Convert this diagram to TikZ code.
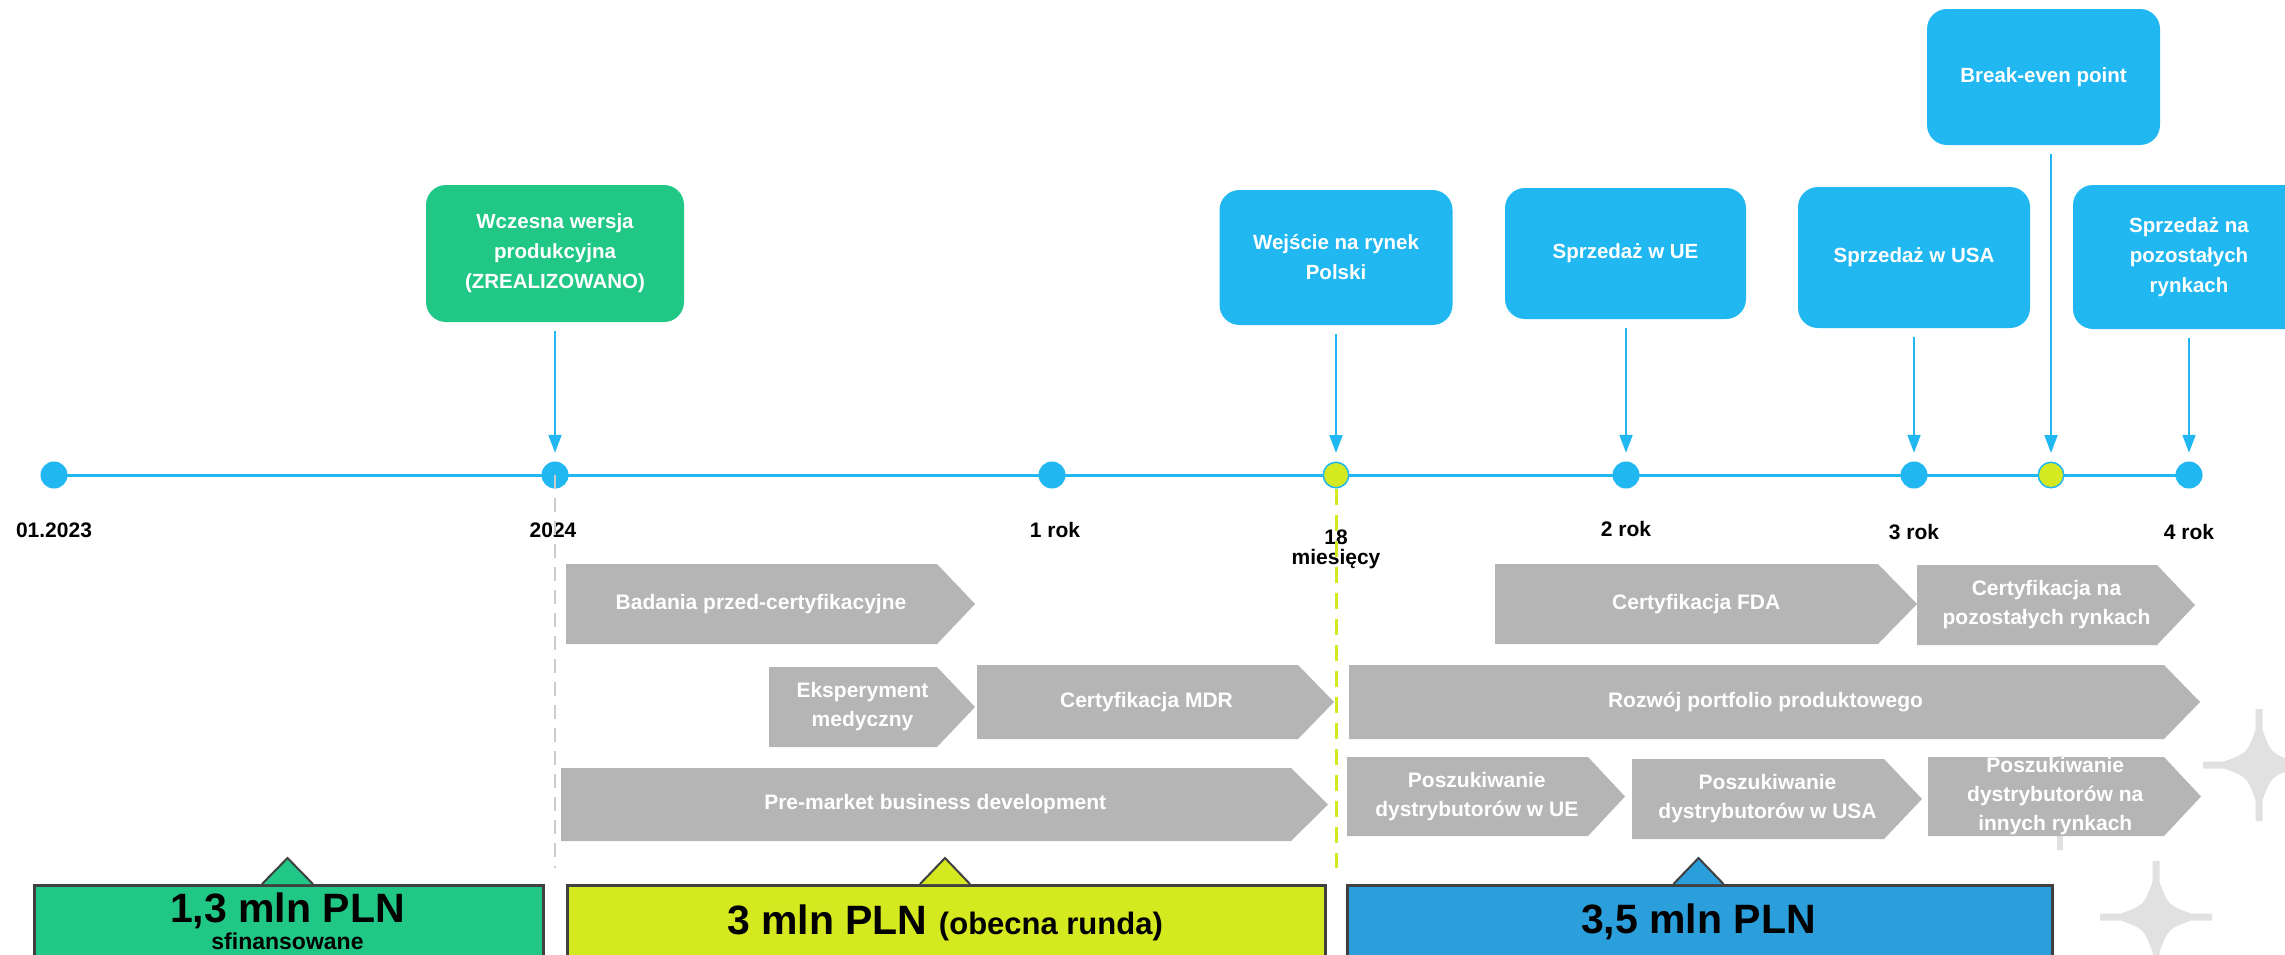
\documentclass[tikz,border=0pt]{standalone}
\usepackage{fontspec}
\setmainfont{Liberation Sans}
\usetikzlibrary{arrows.meta}
\definecolor{tlblue}{HTML}{21B8F2}
\definecolor{mgreen}{HTML}{21C885}
\definecolor{lime}{HTML}{D4E91F}
\definecolor{fblue}{HTML}{2A9FDB}
\definecolor{chgray}{HTML}{B5B5B5}
\definecolor{stargray}{HTML}{E1E1E1}
\definecolor{bord}{HTML}{404040}
\definecolor{dashgray}{HTML}{CCCCCC}
\newcommand\fs[2]{\fontsize{#1}{#2}\selectfont}
\tikzset{
  tdot/.style={circle, fill=tlblue, minimum size=27, inner sep=0},
  ldot/.style={circle, fill=lime, draw=tlblue, line width=1.5, minimum size=25.5, inner sep=0},
  tbox/.style={rounded corners=20, fill=tlblue, text=white, font=\bfseries\fs{20.5}{30}, align=center, inner sep=0},
  gbox/.style={tbox, fill=mgreen},
  arr/.style={draw=tlblue, line width=2, -{Triangle[width=13,length=18]}, shorten <=9, shorten >=8.5},
  lbl/.style={font=\bfseries\fs{21}{25}, inner sep=0, anchor=base},
  chtext/.style={text=white, font=\bfseries\fs{21}{29}, align=center, inner sep=0},
  tlline/.style={draw=tlblue, line width=3},
  fundbox/.style={draw=bord, line width=2.5, anchor=north west, inner sep=0},
  bigtxt/.style={font=\bfseries\fs{41}{41}, inner sep=0, anchor=base},
}
\newcommand\chev[7]{%
  \fill[chgray] (#2,#5) -- (#3,#5) -- (#4,{(#5+#6)/2}) -- (#3,#6) -- (#2,#6) -- cycle;
  \node[chtext] (#1) at ({(#2+(#3+#4)/2)/2},{(#5+#6)/2}) {#7};
}
\newcommand\sparkle[3]{%
  \begin{scope}[shift={(#1,#2)}, scale=#3/56]
  \fill[stargray] (3.5,56) -- (3.5,35) .. controls (12,12) .. (35,3.5) -- (56,3.5) -- (56,-3.5) -- (35,-3.5)
    .. controls (12,-12) .. (3.5,-35) -- (3.5,-56) -- (-3.5,-56) -- (-3.5,-35) .. controls (-12,-12) .. (-35,-3.5)
    -- (-56,-3.5) -- (-56,3.5) -- (-35,3.5) .. controls (-12,12) .. (-3.5,35) -- (-3.5,56) -- cycle;
  \end{scope}
}
\begin{document}
\begin{tikzpicture}[x=1pt,y=-1pt]
\useasboundingbox (0,0) rectangle (2285,954);
\fill[white] (0,0) rectangle (2285,954);

% decorative sparkles
\sparkle{2259}{765}{56}
\sparkle{2156}{917}{56}
\sparkle{2060}{803}{47}

% timeline
\coordinate (tstart) at (54,475);
\coordinate (tend) at (2189,475);
\draw[tlline] (tstart) -- (tend);
\node[tdot] (d0) at (54,475) {};
\node[tdot] (d1) at (555,475) {};
\node[tdot] (d2) at (1052,475) {};
\node[ldot] (d3) at (1336,475) {};
\node[tdot] (d4) at (1626,475) {};
\node[tdot] (d5) at (1914,475) {};
\node[ldot] (d6) at (2051,475) {};
\node[tdot] (d7) at (2189,475) {};

% labels
\node[lbl] (l0) at (54,537) {01.2023};
\node[lbl] (l1) at (553,537) {2024};
\node[lbl] (l2) at (1055,537) {1 rok};
\node[lbl] (l3a) at (1336,544) {18};
\node[lbl] (l3b) at (1336,564) {miesięcy};
\node[lbl] (l4) at (1626,536) {2 rok};
\node[lbl] (l5) at (1914,539) {3 rok};
\node[lbl] (l6) at (2189,539) {4 rok};

% chevrons
\chev{c1}{566}{937}{975}{564}{644}{Badania przed-certyfikacyjne}
\chev{c2}{1495}{1878}{1917}{564}{644}{Certyfikacja FDA}
\chev{c3}{1917}{2157}{2195}{565}{645}{Certyfikacja na\\pozostałych rynkach}
\chev{c4}{769}{937}{975}{667}{747}{Eksperyment\\medyczny}
\chev{c5}{977}{1298}{1334}{665}{739}{Certyfikacja MDR}
\chev{c6}{1349}{2164}{2200}{665}{739}{Rozwój portfolio produktowego}
\chev{c7}{561}{1291}{1328}{768}{841}{Pre-market business development}
\chev{c8}{1347}{1588}{1625}{757}{836}{Poszukiwanie\\dystrybutorów w UE}
\chev{c9}{1632}{1884}{1922}{759}{839}{Poszukiwanie\\dystrybutorów w USA}
\chev{c10}{1928}{2164}{2201}{757}{836}{Poszukiwanie\\dystrybutorów na\\innych rynkach}

% dashed guides
\coordinate (g1) at (555,868);
\coordinate (g2) at (1336,868);
\draw[dashgray, line width=2, dash pattern=on 14 off 9] (d1.center) -- (g1);
\draw[lime, line width=3, dash pattern=on 16 off 10] (d3.south) -- (g2);

% milestone boxes
\node[gbox, minimum width=258, minimum height=137] (b1) at (555,253.5) {Wczesna wersja\\produkcyjna\\(ZREALIZOWANO)};
\node[tbox, minimum width=233, minimum height=135] (b2) at (1336,257.5) {Wejście na rynek\\Polski};
\node[tbox, minimum width=241, minimum height=131] (b3) at (1625.5,253.5) {Sprzedaż w UE};
\node[tbox, minimum width=232, minimum height=141] (b4) at (1914,257.5) {Sprzedaż w USA};
\node[tbox, minimum width=233, minimum height=136] (b5) at (2043.5,77) {Break-even point};
\node[tbox, minimum width=232, minimum height=144] (b6) at (2189,257) {Sprzedaż na\\pozostałych\\rynkach};

\draw[arr] (b1.south -| d1) -- (d1.north);
\draw[arr] (b2.south -| d3) -- (d3.north);
\draw[arr] (b3.south -| d4) -- (d4.north);
\draw[arr] (b4.south -| d5) -- (d5.north);
\draw[arr] (b5.south -| d6) -- (d6.north);
\draw[arr] (b6.south -| d7) -- (d7.north);

% funding boxes
\node[fundbox, fill=mgreen, minimum width=509, minimum height=120] (f1) at (33,884) {};
\node[fundbox, fill=lime, minimum width=758, minimum height=120] (f2) at (566,884) {};
\node[fundbox, fill=fblue, minimum width=705, minimum height=120] (f3) at (1346,884) {};
\filldraw[fill=mgreen, draw=bord, line width=2] (262,884) -- (287.5,858) -- (313,884);
\filldraw[fill=lime, draw=bord, line width=2] (920,884) -- (945,858) -- (970,884);
\filldraw[fill=fblue, draw=bord, line width=2] (1673.5,884) -- (1698.5,858) -- (1723.5,884);

\node[bigtxt] (t1) at (287.5,922) {1,3 mln PLN};
\node[font=\bfseries\fs{23}{23}, inner sep=0, anchor=base] (t1s) at (287.5,949) {sfinansowane};
\node[bigtxt] (t2) at (945,934) {3 mln PLN {\fs{31}{31}(obecna runda)}};
\node[bigtxt] (t3) at (1698.5,933) {3,5 mln PLN};
\end{tikzpicture}
\end{document}
